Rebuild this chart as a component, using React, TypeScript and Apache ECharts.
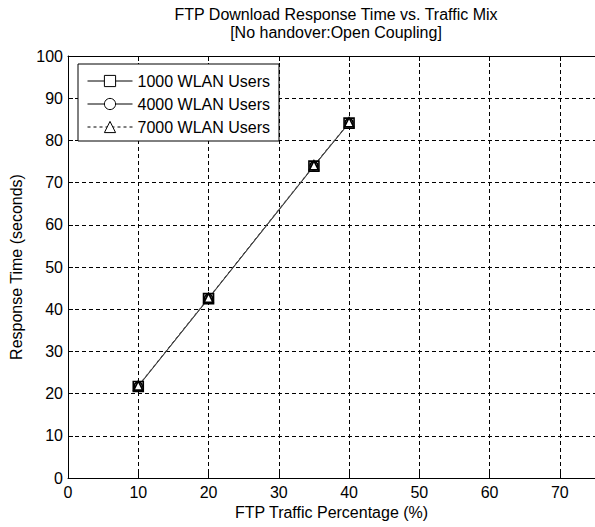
import React, { useEffect, useRef } from "react";
import * as echarts from "echarts";

const xValues = [10, 20, 35, 40];
const users1000 = [21.7, 42.5, 73.9, 84.1];
const users4000 = [21.8, 42.6, 74.0, 84.2];
const users7000 = [21.9, 42.7, 74.1, 84.3];
const seriesNames = ["1000 WLAN Users", "4000 WLAN Users", "7000 WLAN Users"];
const titleText = "FTP Download Response Time vs. Traffic Mix";
const subTitleText = "[No handover:Open Coupling]";
const xName = "FTP Traffic Percentage (%)";
const yName = "Response Time (seconds)";

const FONT = "Liberation Sans, Arial, sans-serif";
const FS = 16;

export default function App() {
  const ref = useRef<HTMLDivElement>(null);
  useEffect(() => {
    if (!ref.current) return;
    const chart = echarts.init(ref.current, undefined, { renderer: "svg" });
    const pairs = (ys: number[]) => xValues.map((x, i) => [x, ys[i]]);
    const mk = (name: string, ys: number[], symbol: string, size: number, dashed: boolean) => ({
      name,
      type: "line",
      data: pairs(ys),
      symbol,
      symbolSize: size,
      showSymbol: true,
      itemStyle: { color: "#fff", borderColor: "#000", borderWidth: 1.6 },
      lineStyle: { color: "#444", width: 1, type: dashed ? [3, 3] : "solid" },
      emphasis: { disabled: true },
    });
    const legendItem = (name: string, dashed: boolean) => ({
      name,
      itemStyle: { color: "#fff", borderColor: "#000", borderWidth: 1 },
      lineStyle: { color: "#000", width: 1, type: dashed ? [3, 3] : "solid" },
    });
    chart.setOption({
      animation: false,
      backgroundColor: "#fff",
      title: {
        text: titleText + "\n" + subTitleText,
        left: 331,
        top: 0,
        textAlign: "center",
        textStyle: {
          fontFamily: FONT,
          fontSize: FS,
          fontWeight: "normal",
          color: "#000",
          lineHeight: 18,
        },
      },
      legend: {
        orient: "vertical",
        left: 78,
        top: 64,
        padding: [9, 9, 6, 9],
        itemWidth: 45,
        itemHeight: 14,
        itemGap: 7,
        backgroundColor: "#fff",
        borderColor: "#000",
        borderWidth: 1,
        borderRadius: 0,
        selectedMode: false,
        lineStyle: { width: 1 },
        itemStyle: { borderWidth: 1 },
        textStyle: { fontFamily: FONT, fontSize: FS, color: "#000", lineHeight: 16 },
        data: [
          legendItem(seriesNames[0], false),
          legendItem(seriesNames[1], false),
          legendItem(seriesNames[2], true),
        ],
      },
      grid: { left: 68, right: 0, top: 56, bottom: 49, containLabel: false },
      xAxis: [
        {
          type: "value",
          min: 0,
          max: 75,
          interval: 10,
          name: xName,
          nameLocation: "middle",
          nameGap: 26,
          nameTextStyle: { fontFamily: FONT, fontSize: FS, color: "#000" },
          axisLine: { show: true, lineStyle: { color: "#000", width: 1 } },
          axisTick: { show: true, inside: true, length: 5, lineStyle: { color: "#000" } },
          axisLabel: {
            fontFamily: FONT,
            fontSize: FS,
            color: "#000",
            margin: 6,
            showMaxLabel: false,
          },
          splitLine: { show: true, lineStyle: { color: "#000", width: 1, type: [4, 3] } },
        },
        {
          type: "value",
          position: "top",
          min: 0,
          max: 75,
          interval: 10,
          axisLine: { show: true, onZero: false, lineStyle: { color: "#000", width: 1 } },
          axisTick: { show: true, inside: true, length: 5, lineStyle: { color: "#000" } },
          axisLabel: { show: false },
          splitLine: { show: false },
        },
      ],
      yAxis: {
        type: "value",
        min: 0,
        max: 100,
        interval: 10,
        name: yName,
        nameLocation: "middle",
        nameGap: 44,
        nameTextStyle: { fontFamily: FONT, fontSize: FS, color: "#000" },
        axisLine: { show: true, lineStyle: { color: "#000", width: 1 } },
        axisTick: { show: true, inside: true, length: 5, lineStyle: { color: "#000" } },
        axisLabel: { fontFamily: FONT, fontSize: FS, color: "#000", margin: 5 },
        splitLine: { show: true, lineStyle: { color: "#000", width: 1, type: [4, 3] } },
      },
      series: [
        mk(seriesNames[0], users1000, "rect", 10, false),
        mk(seriesNames[1], users4000, "circle", 8, false),
        mk(seriesNames[2], users7000, "triangle", 9, true),
      ],
    });
    return () => chart.dispose();
  }, []);
  return (
    <div
      ref={ref}
      style={{ position: "fixed", left: 0, top: 0, width: 595, height: 527 }}
    />
  );
}
